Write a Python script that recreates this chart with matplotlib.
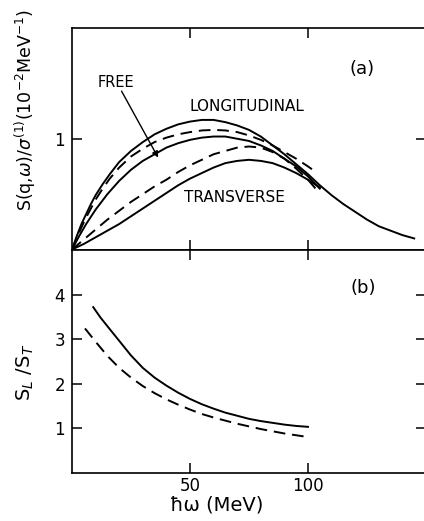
import numpy as np
import matplotlib.pyplot as plt

plt.rcParams['font.family'] = ['DejaVu Sans']
plt.rcParams['mathtext.fontset'] = 'dejavusans'

# panel (a): structure functions, x = hbar*omega (MeV)
long_x = [0, 2, 4, 6, 8, 10, 13, 16, 20, 25, 30, 35, 40, 45, 50, 55, 60, 65, 70, 75, 80, 85, 90, 95,
          100, 105, 110, 115, 120, 125, 130, 135, 140, 145]
long_y = [0, 0.12, 0.23, 0.32, 0.41, 0.49, 0.59, 0.68, 0.79, 0.89, 0.97, 1.04, 1.09, 1.13, 1.155, 1.17,
          1.17, 1.15, 1.12, 1.08, 1.02, 0.94, 0.86, 0.77, 0.68, 0.58, 0.49, 0.41, 0.34, 0.27, 0.21,
          0.17, 0.13, 0.10]
long_free_x = [0, 2, 4, 6, 8, 10, 13, 16, 20, 25, 30, 35, 40, 45, 50, 55, 60, 65, 70, 75, 80, 85, 90,
               95, 100, 104]
long_free_y = [0, 0.10, 0.20, 0.29, 0.37, 0.45, 0.55, 0.64, 0.74, 0.84, 0.91, 0.97, 1.01, 1.04, 1.06,
               1.075, 1.08, 1.075, 1.06, 1.03, 0.99, 0.94, 0.88, 0.82, 0.75, 0.69]
free_x = [0, 3, 6, 10, 15, 20, 25, 30, 35, 40, 45, 50, 55, 60, 65, 70, 75, 80, 85, 90, 95, 100, 105]
free_y = [0, 0.12, 0.23, 0.36, 0.50, 0.62, 0.72, 0.80, 0.86, 0.92, 0.96, 0.99, 1.01, 1.02, 1.02, 1.00,
          0.98, 0.94, 0.89, 0.82, 0.75, 0.66, 0.55]
trans_free_x = [0, 5, 10, 15, 20, 25, 30, 35, 40, 45, 50, 55, 60, 65, 70, 75, 80, 85, 90, 95, 100, 104]
trans_free_y = [0, 0.09, 0.18, 0.27, 0.35, 0.43, 0.50, 0.57, 0.63, 0.70, 0.76, 0.81, 0.86, 0.89,
                0.92, 0.93, 0.92, 0.88, 0.82, 0.73, 0.63, 0.53]
trans_x = [0, 5, 10, 15, 20, 25, 30, 35, 40, 45, 50, 55, 60, 65, 70, 75, 80, 85, 90, 95, 100, 105]
trans_y = [0, 0.05, 0.11, 0.17, 0.23, 0.30, 0.37, 0.44, 0.51, 0.58, 0.64, 0.69, 0.74, 0.78, 0.80,
           0.81, 0.80, 0.78, 0.74, 0.69, 0.63, 0.56]

# panel (b): ratio S_L / S_T
ratio_x = [9, 12, 15, 20, 25, 30, 35, 40, 45, 50, 55, 60, 65, 70, 75, 80, 85, 90, 95, 100]
ratio_y = [3.73, 3.5, 3.3, 2.97, 2.64, 2.36, 2.14, 1.96, 1.80, 1.66, 1.54, 1.44, 1.35, 1.28, 1.21,
           1.16, 1.12, 1.08, 1.05, 1.03]
ratio_free_x = [5.5, 10, 15, 20, 25, 30, 35, 40, 45, 50, 55, 60, 65, 70, 75, 80, 85, 90, 95, 100]
ratio_free_y = [3.25, 2.95, 2.63, 2.36, 2.14, 1.95, 1.79, 1.65, 1.53, 1.42, 1.32, 1.24, 1.17, 1.10,
                1.04, 0.98, 0.93, 0.88, 0.84, 0.80]

lw = 1.4
dash = (6, 3.5)

fig = plt.figure(figsize=(4.24, 5.21), dpi=100)
ax1 = fig.add_axes([72 / 424, 1 - 249.5 / 521, 354 / 424, 221.5 / 521])
ax2 = fig.add_axes([72 / 424, 1 - 472.5 / 521, 354 / 424, 223 / 521])

ax1.plot(long_x, long_y, 'k-', lw=lw)
ax1.plot(long_free_x, long_free_y, 'k--', lw=lw, dashes=dash)
ax1.plot(free_x, free_y, 'k-', lw=lw)
ax1.plot(trans_free_x, trans_free_y, 'k--', lw=lw, dashes=dash)
ax1.plot(trans_x, trans_y, 'k-', lw=lw)

ax1.set_xlim(0, 150)
ax1.set_ylim(0, 2.0)
ax1.set_xticks([50, 100])
ax1.set_xticklabels([])
ax1.set_yticks([1])
ax1.set_yticklabels(['1'])

ax1.text(123, 1.63, '(a)', fontsize=13, ha='center', va='center')
ax1.text(11, 1.51, 'FREE', fontsize=10.5, ha='left', va='center')
ax1.text(74, 1.29, 'LONGITUDINAL', fontsize=11, ha='center', va='center')
ax1.text(69, 0.47, 'TRANSVERSE', fontsize=11, ha='center', va='center')
ax1.annotate('', xy=(36.5, 0.83), xytext=(21, 1.43),
             arrowprops=dict(arrowstyle='-|>', color='k', lw=1.0,
                             mutation_scale=9, shrinkA=0, shrinkB=0))

ax2.plot(ratio_x, ratio_y, 'k-', lw=lw)
ax2.plot(ratio_free_x, ratio_free_y, 'k--', lw=lw, dashes=dash)
ax2.set_xlim(0, 150)
ax2.set_ylim(0, 5.03)
ax2.set_xticks([50, 100])
ax2.set_xticklabels(['50', '100'])
ax2.set_yticks([1, 2, 3, 4])
ax2.text(123.5, 4.17, '(b)', fontsize=13, ha='center', va='center')
ax2.set_xlabel('ħω (MeV)', fontsize=14)
ax2.xaxis.set_label_coords(0.41, -0.146)
ax2.xaxis.label.set_va('center')

for ax in (ax1, ax2):
    ax.tick_params(direction='in', length=7, width=1.1, top=True, right=True,
                   labelsize=12, pad=5)
    ax.tick_params(axis='x', pad=3)
    for s in ax.spines.values():
        s.set_linewidth(1.2)

fig.text(25 / 424, 1 - 110 / 521,
         r'S(q,$\omega$)/$\sigma^{(1)}$(10$^{-2}$MeV$^{-1}$)',
         rotation=90, ha='center', va='center', fontsize=12.5)
fig.text(25 / 424, 1 - 372 / 521, r'S$_L$ /S$_T$',
         rotation=90, ha='center', va='center', fontsize=14)

fig.savefig('out.png', dpi=100)
